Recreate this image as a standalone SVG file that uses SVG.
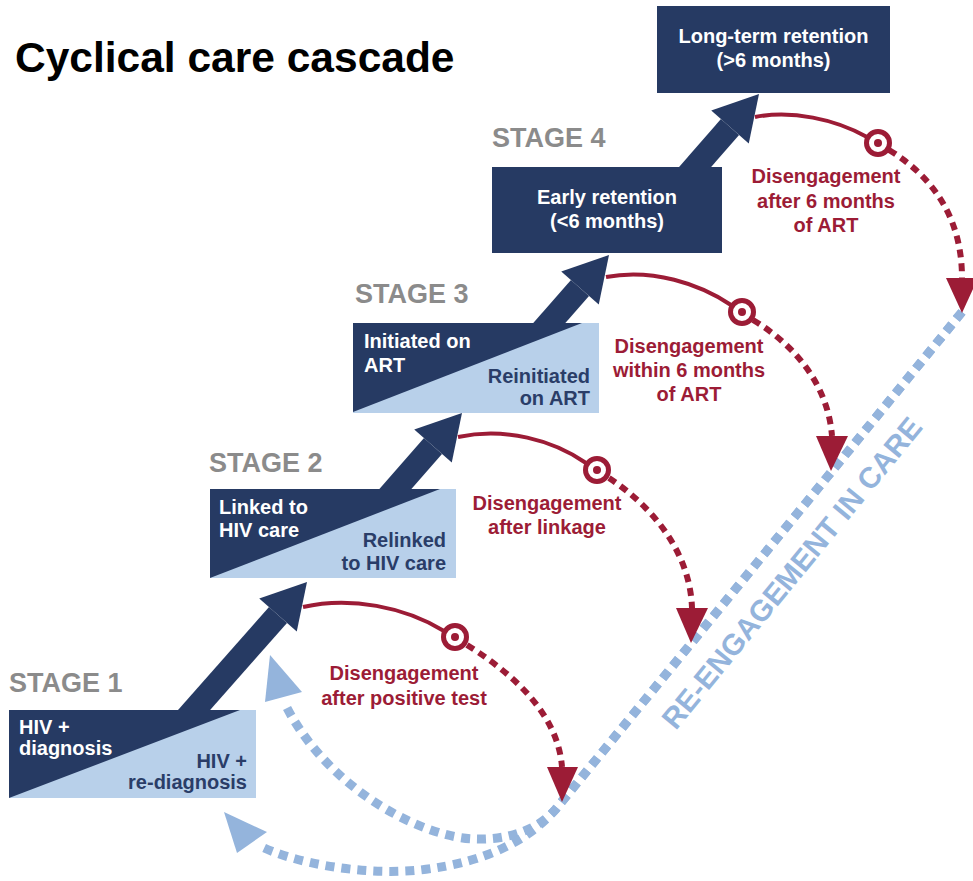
<svg xmlns="http://www.w3.org/2000/svg" width="973" height="881" viewBox="0 0 973 881">
<defs>
<style>
.t{font-family:"Liberation Sans",Arial,sans-serif;font-weight:bold}
.title{font-size:42.5px;fill:#000}
.stage{font-size:27px;fill:#8b8b8b}
.wt{font-size:20px;fill:#fff}
.dt{font-size:20px;fill:#2a3d68;text-anchor:end}
.ct{font-size:20px;fill:#fff;text-anchor:middle}
.rt{font-size:20px;fill:#9c1c36;text-anchor:middle}
.dark{fill:#263a63}
.light{fill:#b8d0ea}
.blue{fill:none;stroke:#94b4dc;stroke-width:9;stroke-dasharray:9 7}
.bhead{fill:#94b4dc}
.rsolid{fill:none;stroke:#9c1c36;stroke-width:4}
.rdash{fill:none;stroke:#9c1c36;stroke-width:6;stroke-dasharray:8 6}
.rhead{fill:#9c1c36}
.ring{fill:#fff;stroke:#9c1c36;stroke-width:5}
.dot{fill:#9c1c36}
.shaft{stroke:#263a63;stroke-width:24;fill:none}
.nhead{fill:#263a63}
</style>
</defs>
<rect width="973" height="881" fill="#fff"/>
<text class="t title" x="15" y="72">Cyclical care cascade</text>

<g id="connectors">
  <path class="blue" d="M962,312 L555,810 C535,832 505,840 475,839 C425,838 330,792 286,706"/>
  <path class="blue" d="M962,312 L555,810 C530,838 490,862 420,870 C360,876 292,862 260,846"/>
  <polygon class="bhead" points="270,655 302,692 265,702"/>
  <polygon class="bhead" points="224,812 267,832 237,853"/>
  <text class="t" font-size="29.5" fill="#94b4dc" text-anchor="middle" transform="translate(792,573) rotate(-50.7)" x="0" y="10">RE-ENGAGEMENT IN CARE</text>

  <line class="shaft" x1="172" y1="735" x2="278" y2="615"/>
  <polygon class="nhead" points="307,582 259.25,598.5 296.75,631.5"/>
  <line class="shaft" x1="377" y1="510" x2="433" y2="446"/>
  <polygon class="nhead" points="462,413 414.25,429.5 451.75,462.5"/>
  <line class="shaft" x1="530" y1="345" x2="580" y2="288"/>
  <polygon class="nhead" points="609,255 561.25,271.5 598.75,304.5"/>
  <line class="shaft" x1="675" y1="190" x2="730" y2="127"/>
  <polygon class="nhead" points="759,94 711.25,110.5 748.75,143.5"/>

  <g id="dis1">
    <path class="rsolid" d="M303,607 C350,596 405,607 444,631"/>
    <path class="rdash" d="M467,645 C515,675 558,715 562,767"/>
    <polygon class="rhead" points="547,767 578,767 562,802"/>
    <circle class="ring" cx="455" cy="637" r="11.5"/>
    <circle class="dot" cx="455" cy="637" r="4"/>
  </g>
  <g id="dis2">
    <path class="rsolid" d="M458,437 C505,427 553,440 586,463"/>
    <path class="rdash" d="M609,478 C650,505 690,550 692,608"/>
    <polygon class="rhead" points="676,608 708,608 691,643"/>
    <circle class="ring" cx="597" cy="470" r="11.5"/>
    <circle class="dot" cx="597" cy="470" r="4"/>
  </g>
  <g id="dis3">
    <path class="rsolid" d="M606,277 C652,268 700,284 731,305"/>
    <path class="rdash" d="M753,320 C795,345 828,385 832,436"/>
    <polygon class="rhead" points="816,436 848,436 831,471"/>
    <circle class="ring" cx="742" cy="312" r="11.5"/>
    <circle class="dot" cx="742" cy="312" r="4"/>
  </g>
  <g id="dis4">
    <path class="rsolid" d="M755,117 C792,110 835,119 867,137"/>
    <path class="rdash" d="M889,150 C935,178 962,220 962,278"/>
    <polygon class="rhead" points="946,278 978,278 962,313"/>
    <circle class="ring" cx="878" cy="143" r="11.5"/>
    <circle class="dot" cx="878" cy="143" r="4"/>
  </g>

  <text class="t rt"><tspan x="404" y="680">Disengagement</tspan><tspan x="404" y="705">after positive test</tspan></text>
  <text class="t rt"><tspan x="547" y="510">Disengagement</tspan><tspan x="547" y="534">after linkage</tspan></text>
  <text class="t rt"><tspan x="689" y="353">Disengagement</tspan><tspan x="689" y="377">within 6 months</tspan><tspan x="689" y="401">of ART</tspan></text>
  <text class="t rt"><tspan x="826" y="183">Disengagement</tspan><tspan x="826" y="208">after 6 months</tspan><tspan x="826" y="232">of ART</tspan></text>
</g>

<g id="stage1">
  <text class="t stage" x="9" y="692">STAGE 1</text>
  <rect class="light" x="9" y="710" width="247" height="88"/>
  <polygon class="dark" points="9,710 240,710 9,798"/>
  <text class="t wt"><tspan x="19" y="734">HIV +</tspan><tspan x="19" y="755">diagnosis</tspan></text>
  <text class="t dt"><tspan x="247" y="768">HIV +</tspan><tspan x="247" y="789">re-diagnosis</tspan></text>
</g>
<g id="stage2">
  <text class="t stage" x="209" y="472">STAGE 2</text>
  <rect class="light" x="210" y="489" width="246" height="89"/>
  <polygon class="dark" points="210,489 440,489 210,578"/>
  <text class="t wt"><tspan x="219" y="514">Linked to</tspan><tspan x="219" y="537">HIV care</tspan></text>
  <text class="t dt"><tspan x="446" y="547">Relinked</tspan><tspan x="446" y="570">to HIV care</tspan></text>
</g>
<g id="stage3">
  <text class="t stage" x="355" y="303">STAGE 3</text>
  <rect class="light" x="353" y="323" width="246" height="90"/>
  <polygon class="dark" points="353,323 582,323 353,412"/>
  <text class="t wt"><tspan x="364" y="348">Initiated on</tspan><tspan x="364" y="372">ART</tspan></text>
  <text class="t dt"><tspan x="590" y="383">Reinitiated</tspan><tspan x="590" y="405">on ART</tspan></text>
</g>
<g id="stage4">
  <text class="t stage" x="492" y="147">STAGE 4</text>
  <rect class="dark" x="492" y="167" width="230" height="86"/>
  <text class="t ct"><tspan x="607" y="204">Early retention</tspan><tspan x="607" y="228">(&lt;6 months)</tspan></text>
</g>
<g id="longterm">
  <rect class="dark" x="657" y="6" width="233" height="87"/>
  <text class="t ct"><tspan x="773.5" y="43">Long-term retention</tspan><tspan x="773.5" y="67">(&gt;6 months)</tspan></text>
</g>
</svg>
